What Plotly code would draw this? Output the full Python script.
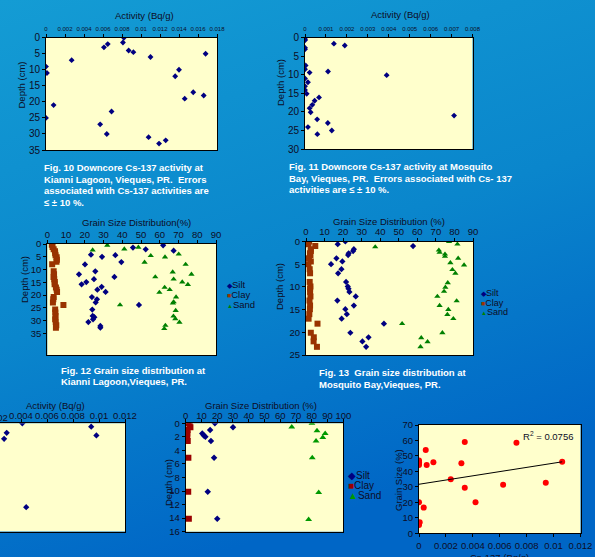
import base64
import plotly.graph_objects as go

W, H = 595, 557

# ---------------- data ----------------
# Fig. 10  Kianni Lagoon Cs-137
fig10_activity = [0.0082, 0.0081, 0.0065, 0.0061, 0.0087, 0.0092, 0.0168, 0.0110, 0.0027, 0.0,
                  0.0001, 0.0140, 0.0136, 0.0155, 0.0166, 0.0146, 0.0008, 0.0069, 0.0, 0.0057,
                  0.0064, 0.0108, 0.0126, 0.0119]
fig10_depth = [0, 1.5, 2, 3, 4, 4.5, 5, 6, 7, 9,
               11, 10, 12, 17, 18, 19, 21, 23, 25, 27,
               30, 31, 32, 33]

# Fig. 11  Mosquito Bay Cs-137
fig11_activity = [0.0, 0.0, 0.0, 0.00138, 0.0019, 0.0, 0.0, 0.00003, 0.0, 0.00022,
                  0.0011, 0.0039, 0.0, 0.00014, 0.0, 0.0, 0.00008, 0.00067, 0.00046, 0.00035,
                  0.00022, 0.00027, 0.00712, 0.00058, 0.00109, 0.00014, 0.00128, 0.00059]
fig11_depth = [0, 0.45, 0.7, 1.6, 2.1, 2.7, 3.1, 7.5, 8.5, 9.4,
               9.1, 10.1, 11, 12, 13.1, 14.1, 15.1, 16.1, 17, 18.1,
               19, 20.1, 21, 22, 23, 24.1, 25, 26]

# Fig. 12  Kianni Lagoon grain size
fig12_silt_depth = [0.5, 1.4, 2.1, 2.6, 4.2, 4.4, 5.0, 7.1, 8.0, 10.7, 11.9, 12.9, 13.8, 14.9, 15.8,
                    16.8, 17.9, 18.8, 20.8, 21.7, 22.9, 23.9, 25.7, 28.2, 28.7, 29.5, 30.6, 32.1, 32.8]
fig12_silt = [61.8, 45.7, 52.5, 67.4, 23.3, 36.3, 29.2, 39.5, 20.1, 25.6, 16.9, 35.8, 24.9, 20.8, 18.3,
              29.0, 26.7, 31.1, 23.8, 26.5, 25.8, 48.9, 24.0, 24.2, 25.1, 24.4, 21.9, 28.3, 28.3]
fig12_clay_depth = [0.3, 1.2, 2.1, 2.8, 3.6, 4.4, 5.2, 6.2, 7.0, 7.9, 10.7, 11.9, 12.9, 13.8, 14.9,
                    15.8, 17.0, 17.9, 18.8, 20.8, 21.7, 22.9, 23.9, 25.7, 26.8, 28.2, 29.5, 30.6, 31.8, 32.8]
fig12_clay = [2.4, 2.8, 3.4, 4.1, 4.2, 4.4, 5.0, 5.1, 4.9, 2.6, 3.4, 3.6, 3.3, 3.7, 4.0,
              3.9, 4.6, 5.0, 5.2, 3.4, 3.2, 3.0, 8.6, 4.2, 4.3, 4.4, 4.2, 4.5, 4.8, 4.6]
fig12_sand_depth = [0.5, 1.3, 2.0, 2.4, 4.0, 4.6, 5.1, 7.2, 8.0, 11.0, 11.9, 12.9, 13.8, 14.9,
                    15.9, 17.0, 17.9, 19.0, 20.8, 22.7, 23.2, 23.9, 26.1, 28.3, 29.3, 30.7, 31.9, 33.2]
fig12_sand = [32.0, 48.6, 41.1, 24.2, 70.1, 55.2, 62.8, 51.9, 73.8, 66.9, 76.9, 57.6, 67.4, 72.0,
              75.0, 62.6, 65.3, 59.8, 68.7, 67.4, 67.0, 38.8, 68.5, 67.3, 68.3, 70.5, 63.0, 62.4]

# Fig. 13  Mosquito Bay grain size
fig13_depth = [0, 0.6, 1.0, 1.7, 2.1, 2.6, 3.0, 3.7, 4.4, 5.0, 6.1, 7.0, 8.9, 9.9,
               10.4, 11.1, 12.1, 13.0, 14.1, 14.9, 16.0, 17.0, 18.1, 20.1, 21.1, 22.0, 23.2]
fig13_silt = [21.2, 17.1, 57.7, 25.8, 25.4, 23.0, 22.7, 16.4, 19.6, 13.5, 19.1, 17.3, 21.6, 22.5,
              22.9, 23.4, 26.8, 16.9, 25.8, 21.2, 22.0, 19.2, 42.0, 23.9, 33.7, 30.4, 32.4]
fig13_clay = [1.7, 1.3, 5.0, 2.6, 2.6, 2.1, 2.4, 1.6, 2.6, 1.3, 2.0, 2.2, 2.0, 2.4,
              2.2, 2.2, 2.4, 1.9, 2.2, 2.1, 1.8, 1.4, 6.2, 2.6, 4.2, 4.1, 5.9]
fig13_sand_depth = [0, 0.6, 1.2, 1.9, 2.4, 2.8, 3.3, 3.7, 4.7, 5.2, 6.2, 7.0, 9.1, 10.1,
                    11.0, 12.1, 13.1, 14.1, 15.0, 16.1, 17.0, 18.1, 20.1, 21.2, 22.1, 23.2]
fig13_sand = [77.1, 81.6, 37.3, 71.6, 72.0, 74.9, 74.9, 82.0, 77.8, 85.2, 78.9, 80.5, 76.4, 75.1,
              74.4, 70.8, 81.2, 72.0, 76.7, 76.2, 79.4, 51.8, 73.5, 62.1, 65.5, 61.7]

# Fig. 14 (partly visible) Cs-137
fig14_activity = [0.0041, 0.0029, 0.0027, 0.0094, 0.0098, 0.0044]
fig14_depth = [0, 1.4, 2.3, 0.5, 1.8, 12.4]

# Fig. 15 grain size
fig15_silt_depth = [0, 0.6, 1.0, 1.5, 1.8, 2.0, 2.6, 5.1, 10.1, 14.1]
fig15_silt = [18.5, 30.0, 15.5, 10.5, 11.5, 12.5, 16.0, 18.0, 14.0, 20.0]
fig15_clay_depth = [0, 0.3, 0.6, 1.0, 1.5, 1.8, 2.1, 2.6, 5.1, 10.1, 14.1]
fig15_clay = [1.5, 2.5, 3.0, 1.2, 1.0, 1.0, 0.8, 1.3, 1.7, 1.6, 2.0]
fig15_sand_depth = [0, 0.55, 1.1, 1.5, 2.1, 2.6, 5.1, 10.2, 14.2]
fig15_sand = [80.1, 67.3, 83.3, 88.5, 87.0, 82.7, 80.3, 84.4, 78.0]

# Grain size vs Cs-137
cs137 = [0, 0, 0, 0, 0.0005, 0.00057, 0.00107, 0.00236, 0.00315, 0.0034, 0.0034,
         0.0042, 0.00625, 0.00724, 0.00942, 0.01064, 0, 0.00035, 0, 0, 0.00005]
grain_size = [47, 45.5, 44.2, 46, 53.8, 44.2, 45.9, 34.9, 45.2, 59, 29.5,
              20, 31.4, 58.6, 32.7, 46.3, 20, 16.6, 6.5, 5.4, 7.1]
trend_intercept = 31.7
trend_slope = 1363.0
r_squared = 0.0756

# ---------------- styling ----------------
FONT = "Liberation Sans, Arial, sans-serif"
TXT = "#0d0d26"
NAVY = "#000080"
BROWN = "#993300"
GREEN = "#008000"
DARKRED = "#990000"
YELLOW = "#FFFFCC"


def xd(p0, p1):
    return [p0 / W, p1 / W]


def yd(p0, p1):
    return [1 - p1 / H, 1 - p0 / H]


def axis(dom, anchor, **kw):
    a = dict(domain=dom, anchor=anchor, showline=True, linecolor="black", linewidth=1,
             mirror=True, ticks="outside", ticklen=3, tickwidth=1, tickcolor="black",
             showgrid=False, zeroline=False, fixedrange=True, automargin=False,
             tickfont=dict(family=FONT, size=10, color=TXT))
    a.update(kw)
    return a


fig = go.Figure()


def sc(x, y, xa, ya, symbol, color, size):
    fig.add_trace(go.Scatter(x=x, y=y, xaxis=xa, yaxis=ya, mode="markers", showlegend=False,
                             hoverinfo="skip",
                             marker=dict(symbol=symbol, color=color, size=size,
                                         line=dict(width=0))))


sc(fig10_activity, fig10_depth, "x", "y", "diamond", NAVY, 4.5)
sc(fig11_activity, fig11_depth, "x2", "y2", "diamond", NAVY, 4.5)
sc(fig12_clay, fig12_clay_depth, "x3", "y3", "square", BROWN, 6)
sc(fig12_silt, fig12_silt_depth, "x3", "y3", "diamond", NAVY, 4.8)
sc(fig12_sand, fig12_sand_depth, "x3", "y3", "triangle-up", GREEN, 5.5)
sc(fig13_clay, fig13_depth, "x4", "y4", "square", BROWN, 6)
sc(fig13_silt, fig13_depth, "x4", "y4", "diamond", NAVY, 4.8)
sc(fig13_sand, fig13_sand_depth, "x4", "y4", "triangle-up", GREEN, 5.5)
sc(fig14_activity, fig14_depth, "x5", "y5", "diamond", NAVY, 4.8)
sc(fig15_clay, fig15_clay_depth, "x6", "y6", "square", DARKRED, 6)
sc(fig15_silt, fig15_silt_depth, "x6", "y6", "diamond", NAVY, 5)
sc(fig15_sand, fig15_sand_depth, "x6", "y6", "triangle-up", "#009900", 6)
sc(cs137, grain_size, "x7", "y7", "circle", "#FF0000", 6)

# trend line from coefficients
tx = [min(cs137), max(cs137)]
ty = [trend_intercept + trend_slope * v for v in tx]
fig.add_trace(go.Scatter(x=tx, y=ty, xaxis="x7", yaxis="y7", mode="lines", showlegend=False,
                         hoverinfo="skip", line=dict(color="black", width=1)))

small = dict(family=FONT, size=6, color=TXT)
mid = dict(family=FONT, size=9.5, color=TXT)

layout = dict(
    width=W, height=H, margin=dict(l=0, r=0, t=0, b=0, autoexpand=False),
    paper_bgcolor="#0a86cc", plot_bgcolor=YELLOW, showlegend=False,
    xaxis=axis(xd(46, 217), "y", range=[0, 0.018], dtick=0.002, side="top", tickfont=small),
    yaxis=axis(yd(37.7, 150), "x", range=[35, 0], dtick=5),
    xaxis2=axis(xd(305, 472.5), "y2", range=[0, 0.008], dtick=0.001, side="top", tickfont=small),
    yaxis2=axis(yd(37.7, 149), "x2", range=[30, 0], dtick=5),
    xaxis3=axis(xd(47.3, 216), "y3", range=[0, 90], dtick=10, side="top", tickfont=mid,
                ticklabelstandoff=-2),
    yaxis3=axis(yd(244, 355), "x3", range=[43.5, 0], tickvals=[0, 5, 10, 15, 20, 25, 30, 35],
                tickfont=mid),
    xaxis4=axis(xd(306, 473), "y4", range=[0, 90], dtick=10, side="top", tickfont=mid,
                ticklabelstandoff=-1),
    yaxis4=axis(yd(241.5, 355), "x4", range=[25, 0], dtick=5, tickfont=mid),
    xaxis5=axis(xd(0, 125), "y5", range=[0.002385, 0.012], tick0=0, dtick=0.002, side="top",
                tickfont=mid, ticklabelstandoff=-3),
    yaxis5=axis(yd(423.3, 531.5), "x5", range=[16, 0], side="right", mirror=False,
                showticklabels=False, ticks=""),
    xaxis6=axis(xd(185.7, 343.3), "y6", range=[0, 100], dtick=10, side="top", tickfont=mid,
                ticklabelstandoff=-3),
    yaxis6=axis(yd(423.3, 531.7), "x6", range=[16, 0], dtick=2, tickfont=mid),
    xaxis7=axis(xd(419, 580.5), "y7", range=[0, 0.012], dtick=0.002, tickfont=mid),
    yaxis7=axis(yd(425, 533.3), "x7", range=[0, 70], dtick=10, tickfont=mid),
)

# background gradient
svg = ('<svg xmlns="http://www.w3.org/2000/svg" width="595" height="557">'
       '<defs><linearGradient id="g" x1="0" y1="0" x2="0.35" y2="1">'
       '<stop offset="0" stop-color="#149cd4"/><stop offset="0.55" stop-color="#0a86cc"/>'
       '<stop offset="1" stop-color="#0066c6"/></linearGradient></defs>'
       '<rect width="595" height="557" fill="url(#g)"/></svg>')
src = "data:image/svg+xml;base64," + base64.b64encode(svg.encode()).decode()
layout["images"] = [dict(source=src, xref="paper", yref="paper", x=0, y=1, sizex=1, sizey=1,
                         sizing="stretch", xanchor="left", yanchor="top", layer="below")]

# explicit yellow plot areas (kept above the gradient image)
shapes = []
for s in ["", "2", "3", "4", "5", "6", "7"]:
    shapes.append(dict(type="rect", xref="x%s domain" % s, yref="y%s domain" % s,
                       x0=0, x1=1, y0=0, y1=1, layer="below", fillcolor=YELLOW,
                       line=dict(width=0)))
layout["shapes"] = shapes

ann = []


def text(x, y, s, size=9.5, color=TXT, bold=False, anchor="center", angle=0, yanchor="middle"):
    if bold:
        s = "<b>" + s + "</b>"
    ann.append(dict(x=x / W, y=1 - y / H, xref="paper", yref="paper", text=s, showarrow=False,
                    xanchor=anchor, yanchor=yanchor, textangle=angle,
                    font=dict(family=FONT, size=size, color=color)))


# axis titles
text(144, 15.5, "Activity (Bq/g)", 9.5)
text(400, 14, "Activity (Bq/g)", 9.5)
text(136.5, 222.5, "Grain Size Distribution(%)", 9.5)
text(389, 221, "Grain Size Distribution (%)", 9.5)
text(55.5, 405, "Activity (Bq/g)", 9.5)
text(261, 405.5, "Grain Size Distribution (%)", 9.5)
text(499, 557, "Cs-137 (Bq/g)", 9.5)
text(20.5, 85, "Depth (cm)", 9.5, angle=-90)
text(280, 83, "Depth (cm)", 9.5, angle=-90)
text(24, 280, "Depth (cm)", 9.5, angle=-90)
text(279, 287, "Depth (cm)", 9.5, angle=-90)
text(168, 483, "Depth (cm)", 9.5, angle=-90)
text(398, 480, "Grain Size (%)", 9.5, angle=-90)
text(575, 435.5, "R<sup>2</sup> = %.4f" % r_squared, 9.5, anchor="right")
# cut-off tick label of the partly visible panel
text(-4.5, 417.5, "0.002", 9.5)

# captions
WHITE = "#ffffff"
cap10 = ["Fig. 10 Downcore Cs-137 activity at", "Kianni Lagoon, Vieques, PR.  Errors",
         "associated with Cs-137 activities are", "\u2264 \u00b1 10 %."]
for i, s in enumerate(cap10):
    text(42, 167.3 + 11.7 * i, s, 9.5, WHITE, True, "left")
cap11 = ["Fig. 11 Downcore Cs-137 activity at Mosquito",
         "Bay, Vieques, PR.  Errors associated with Cs- 137", "activities are \u2264 \u00b1 10 %."]
for i, s in enumerate(cap11):
    text(287, 166.6 + 11.4 * i, s, 9.5, WHITE, True, "left")
cap12 = ["Fig. 12 Grain size distribution at", "Kianni Lagoon,Vieques, PR."]
for i, s in enumerate(cap12):
    text(59, 370.5 + 11.4 * i, s, 9.5, WHITE, True, "left")
cap13 = ["Fig. 13  Grain size distribution at", "Mosquito Bay,Vieques, PR."]
for i, s in enumerate(cap13):
    text(316.5, 372.6 + 12 * i, s, 9.5, WHITE, True, "left")
text(-27, 561, "Downcore Cs-137 activity at Ceiba", 9.5, WHITE, True, "left")


# legends
def legend(x, ys, glyph_sizes, size):
    items = [("\u25c6", NAVY, "Silt"), ("\u25a0", BROWN, "Clay"), ("\u25b2", GREEN, "Sand")]
    for (g, c, lab), y, gs in zip(items, ys, glyph_sizes):
        s = "<span style='color:%s;font-size:%spx'>%s</span>%s" % (c, gs, g, lab)
        text(x, y, s, size, TXT, False, "left")


legend(225, [284, 294, 304.3], [7, 7, 6], 9.5)
legend(479, [293.3, 302.7, 311.7], [7, 7, 6], 9)
items15 = [("\u25c6", NAVY, "Silt"), ("\u25a0", DARKRED, "Clay"), ("\u25b2", "#009900", "Sand")]
for (g, c, lab), y in zip(items15, [475, 485.3, 495.7]):
    text(346, y, "<span style='color:%s;font-size:10px'>%s</span>%s" % (c, g, lab), 10,
         TXT, False, "left")

layout["annotations"] = ann
fig.update_layout(**layout)
fig.write_html("out.html", config={"displayModeBar": False},
               post_script="document.documentElement.style.margin='0';"
                           "document.body.style.margin='0';"
                           "document.body.style.padding='0';"
                           "document.body.style.overflow='hidden';")
